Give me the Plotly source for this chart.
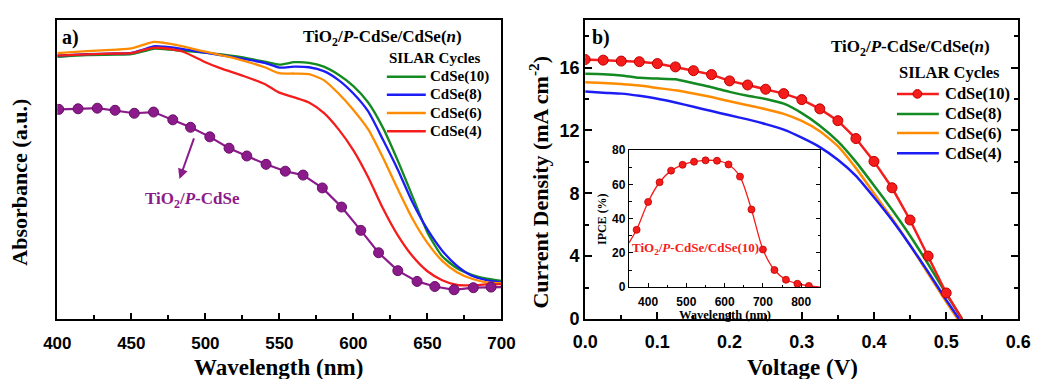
import plotly.graph_objects as go

W, H = 1057, 379
def px(x): return x / W
def py(y): return 1 - y / H

# ---------------- Panel a data (absorbance, arbitrary units) ----------------
wl_grid = [400, 420, 440, 450, 458, 465, 472, 480, 500, 520, 540, 550, 560, 570, 580, 590,
           600, 610, 620, 630, 640, 650, 660, 670, 680, 690, 700]
abs_cdse10 = [0.878, 0.884, 0.885, 0.887, 0.896, 0.905, 0.904, 0.900, 0.892, 0.880, 0.862, 0.852, 0.860, 0.858, 0.845, 0.818,
              0.780, 0.725, 0.640, 0.530, 0.410, 0.290, 0.210, 0.170, 0.148, 0.135, 0.128]
abs_cdse8 = [0.882, 0.887, 0.889, 0.891, 0.902, 0.913, 0.912, 0.908, 0.892, 0.876, 0.858, 0.842, 0.845, 0.843, 0.830, 0.800,
             0.755, 0.695, 0.600, 0.500, 0.390, 0.300, 0.229, 0.178, 0.145, 0.130, 0.122]
abs_cdse6 = [0.890, 0.897, 0.902, 0.906, 0.918, 0.928, 0.925, 0.918, 0.895, 0.873, 0.843, 0.823, 0.822, 0.820, 0.800, 0.755,
             0.700, 0.635, 0.540, 0.435, 0.335, 0.255, 0.195, 0.157, 0.135, 0.123, 0.120]
wl_red = [400, 420, 440, 450, 458, 465, 475, 485, 500, 510, 525, 540, 550, 560, 570, 580, 590,
          600, 610, 620, 630, 640, 650, 660, 670, 680, 690, 700]
abs_cdse4 = [0.882, 0.886, 0.889, 0.890, 0.900, 0.908, 0.905, 0.895, 0.860, 0.840, 0.815, 0.787, 0.758, 0.742, 0.725, 0.690, 0.635,
             0.565, 0.475, 0.370, 0.280, 0.210, 0.160, 0.130, 0.114, 0.113, 0.116, 0.117]
wl_pcdse = [401, 414, 427, 439, 452, 465, 478, 490, 503, 516, 528, 541, 554, 566, 579, 592,
            605, 617, 630, 643, 655, 668, 681, 693]
abs_pcdse = [0.702, 0.704, 0.706, 0.699, 0.689, 0.693, 0.667, 0.642, 0.610, 0.572, 0.546, 0.518, 0.495, 0.482,
             0.439, 0.375, 0.297, 0.222, 0.162, 0.126, 0.109, 0.098, 0.105, 0.107]

# ---------------- Panel b data (J-V) ----------------
v_red = [0.0, 0.025, 0.05, 0.075, 0.1, 0.125, 0.15, 0.175, 0.2, 0.225, 0.25, 0.275, 0.3, 0.325,
         0.35, 0.375, 0.4, 0.425, 0.45, 0.475, 0.5]
j_cdse10 = [16.51, 16.47, 16.41, 16.37, 16.25, 16.04, 15.80, 15.55, 15.15, 14.89, 14.62, 14.34, 13.96, 13.37,
            12.62, 11.48, 10.03, 8.35, 6.30, 4.01, 1.66]
v_end10, j_end10 = 0.522, 0.0
v_grid = [0.0, 0.025, 0.05, 0.075, 0.1, 0.125, 0.15, 0.175, 0.2, 0.225, 0.25, 0.275, 0.3, 0.325,
          0.35, 0.375, 0.4, 0.425, 0.45, 0.475, 0.5]
j_cdse8 = [15.60, 15.58, 15.50, 15.35, 15.30, 15.25, 15.00, 14.75, 14.45, 14.20, 14.00, 13.70, 13.10, 12.30,
           11.30, 10.00, 8.50, 6.95, 5.30, 3.50, 1.60]
v_end8 = 0.522
j_cdse6 = [15.07, 15.02, 14.95, 14.85, 14.70, 14.55, 14.35, 14.12, 13.85, 13.60, 13.35, 13.05, 12.60, 11.95,
           11.00, 9.60, 8.00, 6.40, 4.70, 2.90, 1.10]
v_end6 = 0.516
j_cdse4 = [14.48, 14.40, 14.34, 14.20, 14.02, 13.78, 13.50, 13.23, 12.96, 12.70, 12.40, 12.05, 11.54, 10.94,
           10.13, 9.11, 7.75, 6.30, 4.70, 3.00, 1.22]
v_end4 = 0.518

# ---------------- Inset data (IPCE) ----------------
ipce_wl = [370, 400, 430, 460, 490, 520, 550, 580, 610, 640, 670, 700, 730, 760, 790, 820]
ipce_val = [33.5, 49.8, 61.3, 68.1, 71.5, 73.3, 74.1, 73.9, 71.7, 64.6, 45.4, 22.0, 10.0, 4.3, 2.0, 0.7]
ipce_start = (350, 25.9)
ipce_end = (850, 0.0)

GREEN = "#138a22"
BLUE = "#1c1cf5"
ORANGE = "#ff8c00"
RED = "#f51c1c"
PURPLE = "#8b1a8b"

SERIF = "Liberation Serif"
SANS = "Liberation Sans"

fig = go.Figure()

# panel a traces
for xs, ys, c in [(wl_grid, abs_cdse10, GREEN), (wl_grid, abs_cdse8, BLUE),
                  (wl_grid, abs_cdse6, ORANGE), (wl_red, abs_cdse4, RED)]:
    fig.add_trace(go.Scatter(x=xs, y=ys, mode="lines", line=dict(color=c, width=2.3, shape="spline", smoothing=0.6),
                             xaxis="x", yaxis="y", showlegend=False))
fig.add_trace(go.Scatter(x=[400] + wl_pcdse + [700], y=[abs_pcdse[0]] + abs_pcdse + [abs_pcdse[-1]],
                         mode="lines", line=dict(color=PURPLE, width=2.2), xaxis="x", yaxis="y", showlegend=False))
fig.add_trace(go.Scatter(x=wl_pcdse, y=abs_pcdse, mode="markers",
                         marker=dict(color=PURPLE, size=10, line=dict(color="#6a0f6a", width=1)),
                         xaxis="x", yaxis="y", showlegend=False))

# panel b traces
for js, vend, c in [(j_cdse8, v_end8, GREEN), (j_cdse6, v_end6, ORANGE), (j_cdse4, v_end4, BLUE)]:
    fig.add_trace(go.Scatter(x=v_grid + [vend], y=js + [0.0], mode="lines",
                             line=dict(color=c, width=2.5, shape="spline", smoothing=0.5),
                             xaxis="x2", yaxis="y2", showlegend=False))
fig.add_trace(go.Scatter(x=v_red + [v_end10], y=j_cdse10 + [j_end10], mode="lines",
                         line=dict(color=RED, width=2.5), xaxis="x2", yaxis="y2", showlegend=False))
fig.add_trace(go.Scatter(x=v_red, y=j_cdse10, mode="markers",
                         marker=dict(color=RED, size=10, line=dict(color="#c00000", width=1)),
                         xaxis="x2", yaxis="y2", showlegend=False))

# inset traces
fig.add_trace(go.Scatter(x=[ipce_start[0]] + ipce_wl + [ipce_end[0]], y=[ipce_start[1]] + ipce_val + [ipce_end[1]],
                         mode="lines", line=dict(color=RED, width=1.3, shape="spline", smoothing=0.8),
                         xaxis="x3", yaxis="y3", showlegend=False))
fig.add_trace(go.Scatter(x=ipce_wl, y=ipce_val, mode="markers",
                         marker=dict(color=RED, size=7, line=dict(color="#c00000", width=0.8)),
                         xaxis="x3", yaxis="y3", showlegend=False))

ax_common = dict(showline=True, linecolor="black", showgrid=False, zeroline=False, ticks="inside",
                 tickcolor="black")

fig.update_layout(
    width=W, height=H, margin=dict(l=0, r=0, t=0, b=0),
    paper_bgcolor="white", plot_bgcolor="rgba(0,0,0,0)",
    xaxis=dict(**ax_common, domain=[px(44.5), px(500.7)], range=[400, 700], anchor="y", linewidth=2,
               mirror=True, tick0=400, dtick=50, ticklen=6, tickwidth=1.5, ticklabelstandoff=8,
               minor=dict(dtick=25, ticks="inside", ticklen=4, tickcolor="black", tickwidth=1.5),
               tickfont=dict(family=SANS, size=17, color="black", weight="bold")),
    yaxis=dict(showline=True, linecolor="black", linewidth=2, mirror=True, showgrid=False, zeroline=False,
               domain=[py(326.7), py(14)], range=[0, 1], anchor="x", showticklabels=False, ticks=""),
    xaxis2=dict(**ax_common, domain=[px(586.7), px(1031.7)], range=[0, 0.6], anchor="y2", linewidth=2,
                mirror=True, tick0=0, dtick=0.1, tickformat=".1f", ticklen=7, tickwidth=1.5, ticklabelstandoff=5,
                minor=dict(dtick=0.05, ticks="inside", ticklen=4, tickcolor="black", tickwidth=1.5),
                tickfont=dict(family=SANS, size=18, color="black", weight="bold")),
    yaxis2=dict(**ax_common, domain=[py(326.7), py(14)], range=[0, 19], anchor="x2", linewidth=2,
                mirror="allticks", tick0=0, dtick=4, ticklen=7, tickwidth=1.5,
                minor=dict(dtick=2, ticks="inside", ticklen=4, tickcolor="black", tickwidth=1.5),
                tickfont=dict(family=SANS, size=18, color="black", weight="bold")),
    xaxis3=dict(**ax_common, domain=[px(631.7), px(828.3)], range=[350, 850], anchor="y3", linewidth=1.2,
                mirror=True, tick0=400, dtick=100, ticklen=4, tickwidth=1, ticklabelstandoff=3,
                minor=dict(dtick=50, ticks="inside", ticklen=2.5, tickcolor="black", tickwidth=1),
                tickfont=dict(family=SANS, size=12, color="black", weight="bold")),
    yaxis3=dict(**ax_common, domain=[py(293.3), py(150)], range=[0, 80], anchor="x3", linewidth=1.2,
                mirror="allticks", tick0=0, dtick=20, ticklen=4, tickwidth=1,
                minor=dict(dtick=10, ticks="inside", ticklen=2.5, tickcolor="black", tickwidth=1),
                tickfont=dict(family=SANS, size=12, color="black", weight="bold")),
)

ann = []
def text(x, y, s, size, color="black", xanchor="center", yanchor="middle", angle=0, family=SERIF):
    ann.append(dict(x=px(x), y=py(y), xref="paper", yref="paper", text=s, showarrow=False,
                    xanchor=xanchor, yanchor=yanchor, textangle=angle,
                    font=dict(family=family, size=size, color=color, weight="bold")))

# axis titles
text(272, 377, "Wavelength (nm)", 23)
text(810, 377, "Voltage (V)", 23)
text(6, 183, "Absorbance (a.u.)", 22, angle=-90)
text(539, 183, "Current Density (mA cm<sup>-2</sup>)", 22, angle=-90)
# panel labels
text(58, 32, "a)", 20)
text(603, 32, "b)", 20)
# headers
text(379, 32, "TiO<sub>2</sub>/<i>P</i>-CdSe/CdSe(<i>n</i>)", 17)
text(921, 43, "TiO<sub>2</sub>/<i>P</i>-CdSe/CdSe(<i>n</i>)", 17)
text(383, 53, "SILAR Cycles", 15, xanchor="left")
text(907, 69, "SILAR Cycles", 16.5, xanchor="left")

shapes = []
leg_a = [("CdSe(10)", GREEN, 73), ("CdSe(8)", BLUE, 92), ("CdSe(6)", ORANGE, 111), ("CdSe(4)", RED, 130)]
for name, c, yy in leg_a:
    shapes.append(dict(type="line", xref="paper", yref="paper", x0=px(383), x1=px(423), y0=py(yy), y1=py(yy),
                       line=dict(color=c, width=2.5)))
    text(425, yy, name, 15, xanchor="left")
leg_b = [("CdSe(10)", RED, 91), ("CdSe(8)", GREEN, 112), ("CdSe(6)", ORANGE, 132), ("CdSe(4)", BLUE, 153)]
for name, c, yy in leg_b:
    shapes.append(dict(type="line", xref="paper", yref="paper", x0=px(907), x1=px(950), y0=py(yy), y1=py(yy),
                       line=dict(color=c, width=2.5)))
    text(954, yy, name, 16.5, xanchor="left")
shapes.append(dict(type="circle", xref="paper", yref="paper", x0=px(923.5), x1=px(932.5), y0=py(95.5), y1=py(86.5),
                   fillcolor=RED, line=dict(color="#c00000", width=1)))

# purple sample label and arrow
text(183, 202, "TiO<sub>2</sub>/<i>P</i>-CdSe", 17, color=PURPLE)
ann.append(dict(x=px(170), y=py(180), xref="paper", yref="paper", ax=15, ay=-42, text="",
                showarrow=True, arrowhead=2, arrowsize=1, arrowwidth=2, arrowcolor=PURPLE))

# inset texts
text(700, 253, "TiO<sub>2</sub>/<i>P</i>-CdSe/CdSe(10)", 13, color=RED)
text(604, 222, "IPCE (%)", 12, angle=-90)
text(730, 322, "Wavelength (nm)", 12.5)

fig.update_layout(annotations=ann, shapes=shapes)
fig.write_html("out.html")
